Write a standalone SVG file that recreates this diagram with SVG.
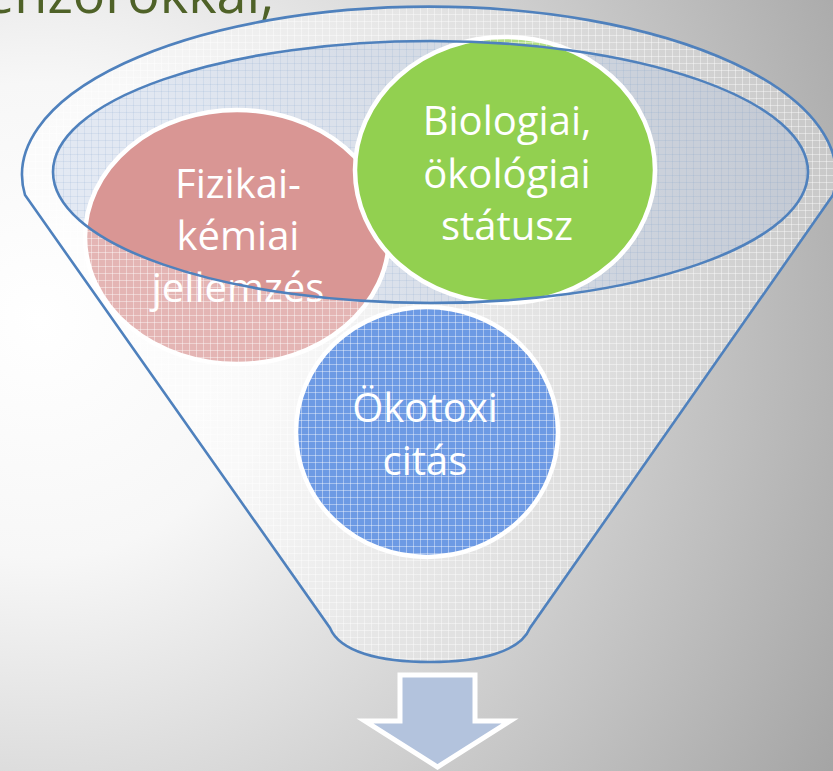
<svg xmlns="http://www.w3.org/2000/svg" width="833" height="771" viewBox="0 0 833 771">
  <defs>
    <radialGradient id="bg" gradientUnits="userSpaceOnUse" cx="40" cy="320" r="950">
      <stop offset="0" stop-color="#ffffff"/>
      <stop offset="0.25" stop-color="#f7f7f7"/>
      <stop offset="1" stop-color="#a0a0a0"/>
    </radialGradient>
    <pattern id="gridW" patternUnits="userSpaceOnUse" width="7" height="7">
      <path d="M0 0.5H7M0.5 0V7" stroke="#ffffff" stroke-opacity="0.4" stroke-width="1"/>
    </pattern>
    <pattern id="gridB" patternUnits="userSpaceOnUse" width="7" height="7">
      <path d="M0 0.5H7M0.5 0V7" stroke="#4F81BD" stroke-opacity="0.1" stroke-width="1"/>
    </pattern>
    <style>
      .node { stroke: #ffffff; stroke-width: 4.5; }
      .lbl { font-family: "Open Sans", "Noto Sans", "Liberation Sans", sans-serif; font-size: 40px; fill: #ffffff; text-anchor: middle; }
      .edge { fill: none; stroke: #4F81BD; stroke-width: 2.6; }
    </style>
  </defs>

  <g id="background">
    <rect x="0" y="0" width="833" height="771" fill="url(#bg)"/>
    <text x="-16" y="13" font-family="'Open Sans', 'Noto Sans', 'Liberation Sans', sans-serif" font-size="54" fill="#4F6228">enzorokkal,</text>
  </g>

  <g id="funnel-top">
    <ellipse cx="430.5" cy="172" rx="377.5" ry="131" fill="#d0dbed" fill-opacity="0.55"/>
    <ellipse cx="430.5" cy="172" rx="377.5" ry="131" fill="url(#gridB)"/>
  </g>

  <g id="node-fizikai">
    <ellipse class="node" cx="237" cy="237" rx="152" ry="127" fill="#D99694"/>
    <text class="lbl" x="238" y="198">Fizikai-</text>
    <text class="lbl" x="238" y="250">kémiai</text>
    <text class="lbl" x="238" y="302">jellemzés</text>
  </g>

  <g id="node-biologiai">
    <ellipse class="node" cx="505" cy="170" rx="150" ry="133" fill="#92D050"/>
    <text class="lbl" x="507" y="135">Biologiai,</text>
    <text class="lbl" x="507" y="188">ökológiai</text>
    <text class="lbl" x="507" y="240">státusz</text>
  </g>

  <g id="node-okotox">
    <ellipse class="node" cx="427" cy="432" rx="131" ry="125" fill="#2E6FD8"/>
    <text class="lbl" x="425" y="422">Ökotoxi</text>
    <text class="lbl" x="425" y="475">citás</text>
  </g>

  <g id="funnel-body">
    <path fill-rule="evenodd" fill="#ffffff" fill-opacity="0.3"
      d="M25,195 A407,168 0 1 1 833,195 L530,628 C520,652 480,662 430,662 C380,662 340,652 330,628 Z M53,172 A377.5,131 0 1 0 808,172 A377.5,131 0 1 0 53,172 Z"/>
    <path fill-rule="evenodd" fill="url(#gridW)"
      d="M25,195 A407,168 0 1 1 833,195 L530,628 C520,652 480,662 430,662 C380,662 340,652 330,628 Z M53,172 A377.5,131 0 1 0 808,172 A377.5,131 0 1 0 53,172 Z"/>
    <path class="edge" d="M25,195 A407,168 0 1 1 833,195 L530,628 C520,652 480,662 430,662 C380,662 340,652 330,628 Z"/>
    <ellipse class="edge" cx="430.5" cy="172" rx="377.5" ry="131"/>
  </g>

  <g id="connectors">
    <path d="M400,675 H475 V721 H510 L437.5,767 L365,721 H400 Z" fill="#B3C3DD" stroke="#ffffff" stroke-width="5" stroke-linejoin="miter"/>
  </g>
</svg>
